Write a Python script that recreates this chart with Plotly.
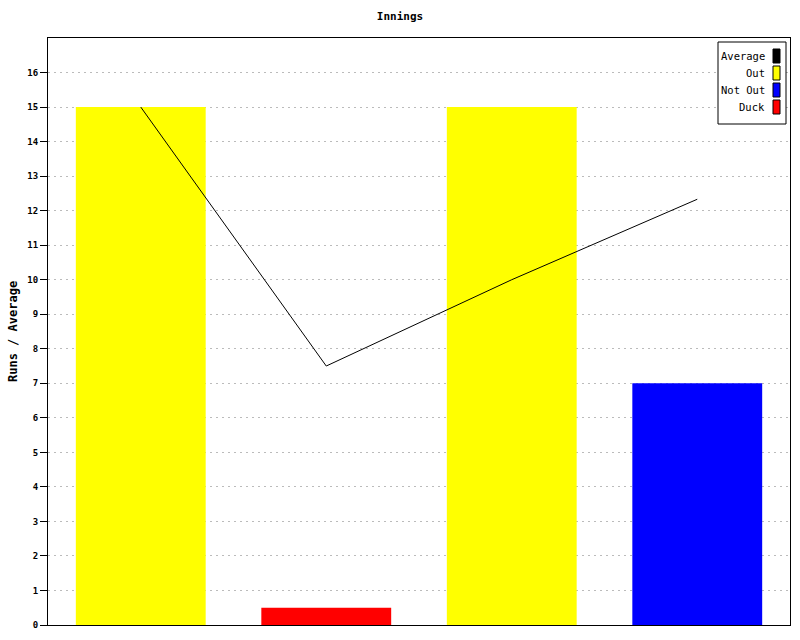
import plotly.graph_objects as go

innings = ["1", "2", "3", "4"]
out_runs = [15, None, 15, None]
not_out_runs = [None, None, None, 7]
duck_runs = [None, 0.5, None, None]
average = [15, 7.5, 10, 12.33]
y_ticks = list(range(0, 17))

legend_items = [("Average", "#000000"), ("Out", "#ffff00"), ("Not Out", "#0000ff"), ("Duck", "#ff0000")]

fig = go.Figure()
fig.add_trace(go.Bar(x=innings, y=out_runs, name="Out", marker=dict(color="#ffff00", line=dict(width=0)), width=0.7))
fig.add_trace(go.Bar(x=innings, y=not_out_runs, name="Not Out", marker=dict(color="#0000ff", line=dict(width=0)), width=0.7))
fig.add_trace(go.Bar(x=innings, y=duck_runs, name="Duck", marker=dict(color="#ff0000", line=dict(width=0)), width=0.7))
fig.add_trace(go.Scatter(x=innings, y=average, name="Average", mode="lines", line=dict(color="#000000", width=1)))

mono = "DejaVu Sans Mono"
L, R, T, B = 48, 10, 38, 15
W, H = 800, 640
PW, PH = W - L - R, H - T - B
fig.update_layout(
    width=W, height=H,
    margin=dict(l=L, r=R, t=T, b=B, autoexpand=False),
    paper_bgcolor="white", plot_bgcolor="white",
    barmode="overlay",
    showlegend=False,
    title=dict(text="Innings", x=0.5, xanchor="center", y=1 - 16 / H, yanchor="middle",
               font=dict(family=mono, size=11, color="black", weight="bold")),
    xaxis=dict(showticklabels=False, ticks="", showgrid=False, showline=True, linecolor="black",
               linewidth=1, mirror=True, zeroline=False, automargin=False),
    yaxis=dict(range=[0, 17], tickvals=y_ticks, ticks="outside", ticklen=7, tickcolor="black",
               tickwidth=1, showline=True, linecolor="black", linewidth=1, mirror=True,
               showgrid=True, gridcolor="#bbbbbb", griddash="2px,4px", gridwidth=1,
               zeroline=False, layer="above traces", automargin=False,
               tickfont=dict(family=mono, size=9, color="black", weight="bold")),
)

def fx(x): return (x - L) / PW
def fy(y): return (H - B - y) / PH

# y axis title
fig.add_annotation(xref="paper", yref="paper", x=fx(13), y=fy(332), text="Runs / Average",
                   textangle=-90, showarrow=False, xanchor="center", yanchor="middle",
                   font=dict(family=mono, size=12, color="black", weight="bold"))

# custom legend (swatch on the right, as in the reference)
fig.add_shape(type="rect", xref="paper", yref="paper", x0=fx(718), x1=fx(786),
              y0=fy(124), y1=fy(42), line=dict(color="black", width=1),
              fillcolor="white", layer="above")
for i, (name, col) in enumerate(legend_items):
    yc = 56 + i * 17
    fig.add_shape(type="rect", xref="paper", yref="paper",
                  x0=fx(773), x1=fx(780), y0=fy(yc + 7), y1=fy(yc - 7),
                  line=dict(color="black", width=1), fillcolor=col, layer="above")
    fig.add_annotation(xref="paper", yref="paper", x=fx(767), y=fy(yc),
                       text=name, showarrow=False, xanchor="right", yanchor="middle",
                       font=dict(family=mono, size=10.5, color="black"))

fig.write_html("out.html", config={"displayModeBar": False},
               post_script="document.body.style.margin='0';document.body.style.overflow='hidden';")
